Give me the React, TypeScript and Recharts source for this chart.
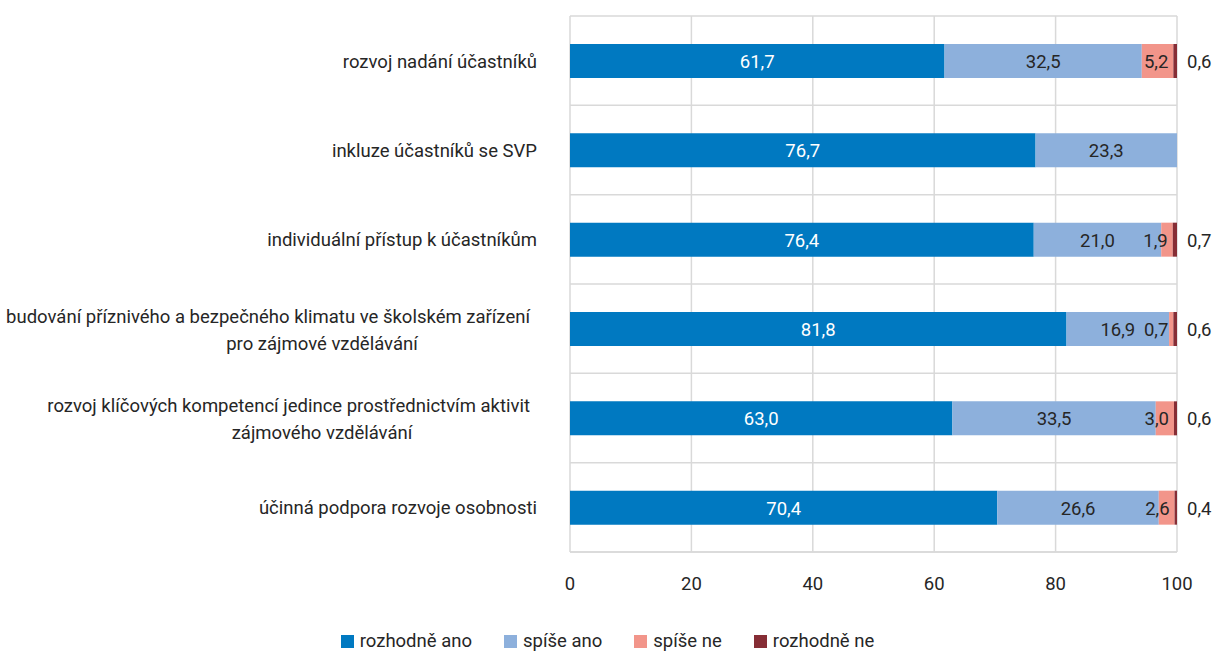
import React from "react";
import { BarChart, Bar, XAxis, YAxis, CartesianGrid, Legend, LabelList } from "recharts";

const categories = [
  "rozvoj nadání účastníků",
  "inkluze účastníků se SVP",
  "individuální přístup k účastníkům",
  "budování příznivého a bezpečného klimatu ve školském zařízení\npro zájmové vzdělávání",
  "rozvoj klíčových kompetencí jedince prostřednictvím aktivit\nzájmového vzdělávání",
  "účinná podpora rozvoje osobnosti",
];
const rozhodneAno = [61.7, 76.7, 76.4, 81.8, 63.0, 70.4];
const spiseAno = [32.5, 23.3, 21.0, 16.9, 33.5, 26.6];
const spiseNe = [5.2, 0, 1.9, 0.7, 3.0, 2.6];
const rozhodneNe = [0.6, 0, 0.7, 0.6, 0.6, 0.4];
const xTicks = [0, 20, 40, 60, 80, 100];

const series = [
  { key: "rozhodně ano", color: "#0079C1" },
  { key: "spíše ano", color: "#8DB0DC" },
  { key: "spíše ne", color: "#F2958A" },
  { key: "rozhodně ne", color: "#862D35" },
];

const data = categories.map((name, i) => ({
  name,
  "rozhodně ano": rozhodneAno[i],
  "spíše ano": spiseAno[i],
  "spíše ne": spiseNe[i],
  "rozhodně ne": rozhodneNe[i],
}));

const FONT = "Roboto, 'Liberation Sans', sans-serif";
const TXT = "#262626";
const FS = 18.5;
const fmt = (v: number) => v.toFixed(1).replace(".", ",");

const CatTick = (props: any) => {
  const { x, y, payload } = props;
  const lines: string[] = String(payload.value).split("\n");
  if (lines.length === 1) {
    return (
      <text x={x} y={y} dy={7} textAnchor="end" fill={TXT} fontSize={FS} fontFamily={FONT}>
        {lines[0]}
      </text>
    );
  }
  return (
    <g>
      <text x={x - 7} y={y - 13} dy={7} textAnchor="end" fill={TXT} fontSize={FS} fontFamily={FONT}>
        {lines[0]}
      </text>
      <text x={x - 215} y={y + 14} dy={7} textAnchor="middle" fill={TXT} fontSize={FS} fontFamily={FONT}>
        {lines[1]}
      </text>
    </g>
  );
};

const makeLabel = (mode: "center-white" | "center" | "end" | "outside") => (props: any) => {
  const { x, y, width, height, value } = props;
  if (!value) return null;
  const cy = y + height / 2 + 7;
  const common = { y: cy, fontSize: FS, fontFamily: FONT };
  if (mode === "outside") {
    return (
      <text x={x + width + 10} textAnchor="start" fill={TXT} {...common}>
        {fmt(value)}
      </text>
    );
  }
  if (mode === "end") {
    return (
      <text x={x + width - 5} textAnchor="end" fill={TXT} {...common}>
        {fmt(value)}
      </text>
    );
  }
  return (
    <text x={x + width / 2} textAnchor="middle" fill={mode === "center-white" ? "#fff" : TXT} {...common}>
      {fmt(value)}
    </text>
  );
};

const labelModes: ("center-white" | "center" | "end" | "outside")[] = ["center-white", "center", "end", "outside"];

const LegendContent = () => (
  <div style={{ display: "flex", justifyContent: "center", gap: 32, fontFamily: FONT, fontSize: FS, color: TXT }}>
    {series.map((s) => (
      <div key={s.key} style={{ display: "flex", alignItems: "center", gap: 6 }}>
        <span style={{ display: "inline-block", width: 13, height: 13, background: s.color }} />
        <span>{s.key}</span>
      </div>
    ))}
  </div>
);

export default function App() {
  return (
    <div style={{ position: "absolute", left: 0, top: 0, background: "#fff" }}>
      <BarChart
        width={1215}
        height={655}
        data={data}
        layout="vertical"
        margin={{ top: 16, right: 38, bottom: 25, left: 0 }}
      >
        <CartesianGrid
          stroke="#D9D9D9"
          strokeWidth={1.5}
          horizontalCoordinatesGenerator={({ offset }: any) =>
            Array.from({ length: categories.length + 1 }, (_, i) => offset.top + (i * offset.height) / categories.length)
          }
        />
        <XAxis
          type="number"
          domain={[0, 100]}
          ticks={xTicks}
          allowDataOverflow
          tickLine={false}
          axisLine={{ stroke: "#D9D9D9", strokeWidth: 1.5 }}
          tickMargin={19}
          height={56}
          tick={{ fill: TXT, fontSize: FS, fontFamily: FONT }}
        />
        <YAxis
          type="category"
          dataKey="name"
          width={570}
          tickLine={false}
          axisLine={false}
          tickMargin={27}
          tick={<CatTick />}
          interval={0}
        />
        <Legend verticalAlign="bottom" content={<LegendContent />} wrapperStyle={{ left: 0, width: 1215, bottom: 3 }} />
        {series.map((s, i) => (
          <Bar key={s.key} dataKey={s.key} stackId="a" fill={s.color} barSize={34} isAnimationActive={false}>
            <LabelList dataKey={s.key} content={makeLabel(labelModes[i])} />
          </Bar>
        ))}
      </BarChart>
    </div>
  );
}
